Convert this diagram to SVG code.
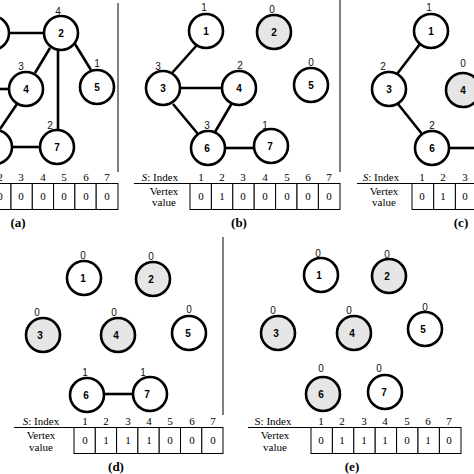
<svg xmlns="http://www.w3.org/2000/svg" width="474" height="474" viewBox="0 0 474 474">
<style>
.n{fill:#fff;stroke:#000;stroke-width:2.6}
.g{fill:#e6e6e6;stroke:#000;stroke-width:2.6}
.nl{font-family:"Liberation Sans",Arial,sans-serif;font-size:10px;font-weight:bold;text-anchor:middle;fill:#000}
.dl{font-family:"Liberation Sans",Arial,sans-serif;font-size:10px;text-anchor:middle;fill:#111}
.e{stroke:#000;stroke-width:2.6;fill:none}
.sep{stroke:#808080;stroke-width:2;fill:none}
.t{font-family:"Liberation Serif","Times New Roman",serif;font-size:11px;text-anchor:middle;fill:#000}
.cell{fill:#fff;stroke:#000;stroke-width:1}
.ul{stroke:#000;stroke-width:1}
.pl{font-family:"Liberation Serif","Times New Roman",serif;font-size:13px;font-weight:bold;text-anchor:middle;fill:#000}
</style>

<!-- separators -->
<g id="separators">
<line class="sep" x1="118" y1="3" x2="118" y2="172"/>
<line class="sep" x1="340" y1="0" x2="340" y2="172"/>
<line class="sep" x1="223" y1="237" x2="223" y2="415"/>
</g>

<!-- connectors -->
<g id="connectors">
<!-- (a) -->
<line class="e" x1="9" y1="33" x2="44" y2="33"/>
<line class="e" x1="50" y1="48" x2="35" y2="73"/>
<line class="e" x1="58" y1="50" x2="58" y2="130"/>
<line class="e" x1="75" y1="44" x2="91" y2="70"/>
<line class="e" x1="0" y1="89" x2="9" y2="89"/>
<line class="e" x1="17" y1="104" x2="0" y2="129"/>
<line class="e" x1="11" y1="147" x2="40" y2="147"/>
<!-- (b) -->
<line class="e" x1="197" y1="45" x2="172" y2="73"/>
<line class="e" x1="180" y1="88" x2="222" y2="88"/>
<line class="e" x1="173" y1="104" x2="198" y2="134"/>
<line class="e" x1="232" y1="103" x2="215" y2="132"/>
<line class="e" x1="225" y1="148" x2="254" y2="148"/>
<!-- (c) -->
<line class="e" x1="420" y1="44" x2="397" y2="74"/>
<line class="e" x1="398" y1="104" x2="422" y2="134"/>
<line class="e" x1="449" y1="148" x2="474" y2="148"/>
<!-- (d) -->
<line class="e" x1="104" y1="394" x2="133" y2="394"/>
</g>

<!-- panel (a) nodes -->
<g id="a-node1"><circle class="n" cx="-8" cy="33" r="17"/></g>
<g id="a-node2"><circle class="n" cx="61" cy="33" r="17"/><text class="nl" x="61" y="37">2</text><text class="dl" x="58" y="15">4</text></g>
<g id="a-node4"><circle class="n" cx="26" cy="89" r="17"/><text class="nl" x="26" y="93">4</text><text class="dl" x="21" y="70">3</text></g>
<g id="a-node5"><circle class="n" cx="97" cy="87" r="17"/><text class="nl" x="97" y="91">5</text><text class="dl" x="97" y="67">1</text></g>
<g id="a-node6"><circle class="n" cx="-5" cy="147" r="17"/></g>
<g id="a-node7"><circle class="n" cx="57" cy="147" r="17"/><text class="nl" x="57" y="151">7</text><text class="dl" x="50" y="129">2</text></g>

<!-- panel (b) nodes -->
<g id="b-node1"><circle class="n" cx="206" cy="31" r="17"/><text class="nl" x="206" y="35">1</text><text class="dl" x="204" y="11">1</text></g>
<g id="b-node2"><circle class="g" cx="274" cy="32" r="17"/><text class="nl" x="274" y="36">2</text><text class="dl" x="272" y="13">0</text></g>
<g id="b-node3"><circle class="n" cx="163" cy="88" r="17"/><text class="nl" x="163" y="92">3</text><text class="dl" x="158" y="70">3</text></g>
<g id="b-node4"><circle class="n" cx="239" cy="88" r="17"/><text class="nl" x="239" y="92">4</text><text class="dl" x="240" y="69">2</text></g>
<g id="b-node5"><circle class="n" cx="311" cy="85" r="17"/><text class="nl" x="311" y="89">5</text><text class="dl" x="311" y="66">0</text></g>
<g id="b-node6"><circle class="n" cx="208" cy="148" r="17"/><text class="nl" x="207" y="152">6</text><text class="dl" x="207" y="129">3</text></g>
<g id="b-node7"><circle class="n" cx="271" cy="146" r="17"/><text class="nl" x="270" y="150">7</text><text class="dl" x="265" y="129">1</text></g>

<!-- panel (c) nodes -->
<g id="c-node1"><circle class="n" cx="431" cy="31" r="17"/><text class="nl" x="431" y="35">1</text><text class="dl" x="429" y="11">1</text></g>
<g id="c-node3"><circle class="n" cx="389" cy="89" r="17"/><text class="nl" x="389" y="93">3</text><text class="dl" x="383" y="70">2</text></g>
<g id="c-node4"><circle class="g" cx="463" cy="90" r="17"/><text class="nl" x="463" y="94">4</text><text class="dl" x="463" y="67">0</text></g>
<g id="c-node6"><circle class="n" cx="432" cy="148" r="17"/><text class="nl" x="432" y="152">6</text><text class="dl" x="432" y="129">2</text></g>

<!-- panel (d) nodes -->
<g id="d-node1"><circle class="n" cx="84" cy="278" r="17"/><text class="nl" x="83" y="282">1</text><text class="dl" x="83" y="259">0</text></g>
<g id="d-node2"><circle class="g" cx="153" cy="279" r="17"/><text class="nl" x="151" y="283">2</text><text class="dl" x="151" y="260">0</text></g>
<g id="d-node3"><circle class="g" cx="43" cy="335" r="17"/><text class="nl" x="40" y="339">3</text><text class="dl" x="37" y="316">0</text></g>
<g id="d-node4"><circle class="g" cx="118" cy="335" r="17"/><text class="nl" x="116" y="339">4</text><text class="dl" x="114" y="316">0</text></g>
<g id="d-node5"><circle class="n" cx="189" cy="333" r="17"/><text class="nl" x="188" y="337">5</text><text class="dl" x="189" y="313">0</text></g>
<g id="d-node6"><circle class="n" cx="87" cy="395" r="17"/><text class="nl" x="86" y="399">6</text><text class="dl" x="85" y="376">1</text></g>
<g id="d-node7"><circle class="n" cx="150" cy="394" r="17"/><text class="nl" x="147" y="398">7</text><text class="dl" x="143" y="376">1</text></g>

<!-- panel (e) nodes -->
<g id="e-node1"><circle class="n" cx="321" cy="275" r="17"/><text class="nl" x="319" y="279">1</text><text class="dl" x="318" y="257">0</text></g>
<g id="e-node2"><circle class="g" cx="389" cy="276" r="17"/><text class="nl" x="387" y="280">2</text><text class="dl" x="387" y="258">0</text></g>
<g id="e-node3"><circle class="g" cx="278" cy="333" r="17"/><text class="nl" x="276" y="337">3</text><text class="dl" x="273" y="314">0</text></g>
<g id="e-node4"><circle class="g" cx="354" cy="333" r="17"/><text class="nl" x="352" y="337">4</text><text class="dl" x="349" y="314">0</text></g>
<g id="e-node5"><circle class="n" cx="425" cy="329" r="17"/><text class="nl" x="423" y="333">5</text><text class="dl" x="425" y="311">0</text></g>
<g id="e-node6"><circle class="g" cx="323" cy="394" r="17"/><text class="nl" x="321" y="398">6</text><text class="dl" x="321" y="372">0</text></g>
<g id="e-node7"><circle class="n" cx="385" cy="392" r="17"/><text class="nl" x="384" y="396">7</text><text class="dl" x="379" y="372">0</text></g>

<!-- table (a) -->
<g id="table-a">
<line class="ul" x1="0" y1="183.5" x2="118" y2="183.5"/>
<rect class="cell" x="-10" y="183.5" width="21" height="26"/>
<rect class="cell" x="11" y="183.5" width="21.3" height="26"/>
<rect class="cell" x="32.3" y="183.5" width="21.3" height="26"/>
<rect class="cell" x="53.6" y="183.5" width="21.3" height="26"/>
<rect class="cell" x="74.9" y="183.5" width="21.3" height="26"/>
<rect class="cell" x="96.2" y="183.5" width="21.8" height="26"/>
<text class="t" x="0" y="181">2</text><text class="t" x="21" y="181">3</text><text class="t" x="43" y="181">4</text><text class="t" x="64" y="181">5</text><text class="t" x="86" y="181">6</text><text class="t" x="107" y="181">7</text>
<text class="t" x="0" y="200">0</text><text class="t" x="21" y="200">0</text><text class="t" x="43" y="200">0</text><text class="t" x="64" y="200">0</text><text class="t" x="86" y="200">0</text><text class="t" x="107" y="200">0</text>
<text class="pl" x="18" y="227">(a)</text>
</g>

<!-- table (b) -->
<g id="table-b">
<line class="ul" x1="134" y1="183.5" x2="340" y2="183.5"/>
<text class="t" x="160" y="181"><tspan font-style="italic">S</tspan>: Index</text>
<text class="t" x="164" y="195">Vertex</text><text class="t" x="164" y="206">value</text>
<rect class="cell" x="190" y="183.5" width="21.4" height="26"/>
<rect class="cell" x="211.4" y="183.5" width="21.4" height="26"/>
<rect class="cell" x="232.8" y="183.5" width="21.4" height="26"/>
<rect class="cell" x="254.2" y="183.5" width="21.4" height="26"/>
<rect class="cell" x="275.6" y="183.5" width="21.4" height="26"/>
<rect class="cell" x="297" y="183.5" width="21.4" height="26"/>
<rect class="cell" x="318.4" y="183.5" width="21.6" height="26"/>
<text class="t" x="201" y="181">1</text><text class="t" x="222" y="181">2</text><text class="t" x="243" y="181">3</text><text class="t" x="265" y="181">4</text><text class="t" x="287" y="181">5</text><text class="t" x="308" y="181">6</text><text class="t" x="329" y="181">7</text>
<text class="t" x="201" y="200">0</text><text class="t" x="222" y="200">1</text><text class="t" x="243" y="200">0</text><text class="t" x="265" y="200">0</text><text class="t" x="287" y="200">0</text><text class="t" x="308" y="200">0</text><text class="t" x="329" y="200">0</text>
<text class="pl" x="239" y="227">(b)</text>
</g>

<!-- table (c) -->
<g id="table-c">
<line class="ul" x1="357" y1="183.5" x2="474" y2="183.5"/>
<text class="t" x="381" y="181"><tspan font-style="italic">S</tspan>: Index</text>
<text class="t" x="384" y="195">Vertex</text><text class="t" x="384" y="206">value</text>
<rect class="cell" x="412" y="183.5" width="21.7" height="26"/>
<rect class="cell" x="433.7" y="183.5" width="21.7" height="26"/>
<rect class="cell" x="455.4" y="183.5" width="21.7" height="26"/>
<text class="t" x="422" y="181">1</text><text class="t" x="443" y="181">2</text><text class="t" x="465" y="181">3</text>
<text class="t" x="422" y="200">0</text><text class="t" x="443" y="200">1</text><text class="t" x="465" y="200">0</text>
<text class="pl" x="461" y="227">(c)</text>
</g>

<!-- table (d) -->
<g id="table-d">
<line class="ul" x1="14" y1="427.5" x2="223" y2="427.5"/>
<text class="t" x="41" y="425"><tspan font-style="italic">S</tspan>: Index</text>
<text class="t" x="41" y="439">Vertex</text><text class="t" x="41" y="451">value</text>
<rect class="cell" x="74" y="427.5" width="21.3" height="26"/>
<rect class="cell" x="95.3" y="427.5" width="21.3" height="26"/>
<rect class="cell" x="116.6" y="427.5" width="21.3" height="26"/>
<rect class="cell" x="137.9" y="427.5" width="21.3" height="26"/>
<rect class="cell" x="159.2" y="427.5" width="21.3" height="26"/>
<rect class="cell" x="180.5" y="427.5" width="21.3" height="26"/>
<rect class="cell" x="201.8" y="427.5" width="21.2" height="26"/>
<text class="t" x="85" y="425">1</text><text class="t" x="106" y="425">2</text><text class="t" x="128" y="425">3</text><text class="t" x="149" y="425">4</text><text class="t" x="170" y="425">5</text><text class="t" x="192" y="425">6</text><text class="t" x="213" y="425">7</text>
<text class="t" x="85" y="444">0</text><text class="t" x="106" y="444">1</text><text class="t" x="128" y="444">1</text><text class="t" x="149" y="444">1</text><text class="t" x="170" y="444">0</text><text class="t" x="192" y="444">0</text><text class="t" x="213" y="444">0</text>
<text class="pl" x="116" y="471">(d)</text>
</g>

<!-- table (e) -->
<g id="table-e">
<line class="ul" x1="248" y1="427.5" x2="461" y2="427.5"/>
<text class="t" x="273" y="425">S: Index</text>
<text class="t" x="275" y="439">Vertex</text><text class="t" x="275" y="451">value</text>
<rect class="cell" x="311" y="427.5" width="21.4" height="26"/>
<rect class="cell" x="332.4" y="427.5" width="21.4" height="26"/>
<rect class="cell" x="353.8" y="427.5" width="21.4" height="26"/>
<rect class="cell" x="375.2" y="427.5" width="21.4" height="26"/>
<rect class="cell" x="396.6" y="427.5" width="21.4" height="26"/>
<rect class="cell" x="418" y="427.5" width="21.4" height="26"/>
<rect class="cell" x="439.4" y="427.5" width="21.6" height="26"/>
<text class="t" x="321" y="425">1</text><text class="t" x="342" y="425">2</text><text class="t" x="364" y="425">3</text><text class="t" x="385" y="425">4</text><text class="t" x="407" y="425">5</text><text class="t" x="428" y="425">6</text><text class="t" x="449" y="425">7</text>
<text class="t" x="321" y="444">0</text><text class="t" x="342" y="444">1</text><text class="t" x="364" y="444">1</text><text class="t" x="385" y="444">1</text><text class="t" x="407" y="444">0</text><text class="t" x="428" y="444">1</text><text class="t" x="449" y="444">0</text>
<text class="pl" x="352" y="471">(e)</text>
</g>
</svg>
